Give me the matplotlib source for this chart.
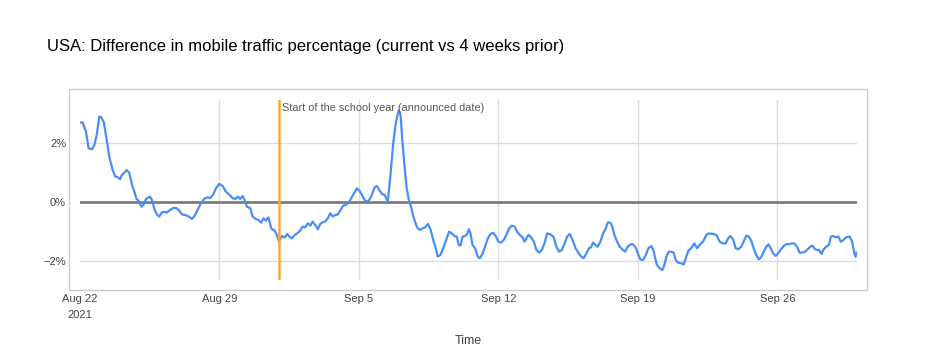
import pandas as pd
import matplotlib
matplotlib.use("Agg")
import matplotlib.pyplot as plt
from matplotlib.patches import Rectangle

plt.rcParams['font.family'] = ['Liberation Sans', 'DejaVu Sans']

title = 'USA: Difference in mobile traffic percentage (current vs 4 weeks prior)'
start = pd.Timestamp('2021-08-22')
end = pd.Timestamp('2021-09-30')
school_start = pd.Timestamp('2021-09-01')
school_label = 'Start of the school year (announced date)'

# days since Aug 22 00:00
days = [0.0, 0.13, 0.3, 0.43, 0.6, 0.72, 0.84, 0.97, 1.07, 1.2, 1.34, 1.47, 1.64, 1.77,
        1.89, 2.01, 2.1, 2.22, 2.34, 2.47, 2.61, 2.73, 2.84, 2.94, 3.08, 3.18, 3.31, 3.51,
        3.61, 3.75, 3.88, 3.98, 4.11, 4.23, 4.35, 4.48, 4.65, 4.82, 4.95, 5.12, 5.28, 5.45,
        5.62, 5.75, 5.9, 6.07, 6.24, 6.4, 6.54, 6.69, 6.82, 6.99, 7.16, 7.32, 7.49, 7.66,
        7.79, 7.93, 8.04, 8.16, 8.26, 8.38, 8.55, 8.66, 8.83, 8.96, 9.1, 9.21, 9.33, 9.46,
        9.6, 9.77, 9.88, 10.0, 10.13, 10.27, 10.4, 10.5, 10.64, 10.77, 10.9, 11.05, 11.17,
        11.3, 11.44, 11.56, 11.67, 11.81, 11.94, 12.06, 12.17, 12.31, 12.44, 12.56, 12.68,
        12.81, 12.94, 13.08, 13.2, 13.31, 13.48, 13.61, 13.75, 13.9, 14.03, 14.15, 14.28,
        14.4, 14.52, 14.65, 14.79, 14.9, 15.02, 15.15, 15.29, 15.45, 15.59, 15.72, 15.85,
        15.99, 16.09, 16.19, 16.29, 16.39, 16.52, 16.62, 16.71, 16.79, 16.92, 17.06, 17.19,
        17.32, 17.46, 17.59, 17.71, 17.83, 17.96, 18.09, 18.26, 18.39, 18.53, 18.66, 18.8,
        18.91, 19.01, 19.1, 19.2, 19.33, 19.43, 19.52, 19.6, 19.7, 19.83, 19.97, 20.07,
        20.2, 20.33, 20.47, 20.6, 20.74, 20.87, 21.0, 21.14, 21.27, 21.4, 21.54, 21.67,
        21.81, 21.94, 22.07, 22.21, 22.31, 22.41, 22.51, 22.64, 22.78, 22.91, 23.05, 23.18,
        23.31, 23.45, 23.61, 23.78, 23.91, 24.05, 24.18, 24.32, 24.45, 24.58, 24.72, 24.87,
        25.03, 25.17, 25.28, 25.42, 25.55, 25.65, 25.75, 25.87, 25.99, 26.12, 26.26, 26.39,
        26.49, 26.62, 26.72, 26.82, 26.96, 27.09, 27.22, 27.36, 27.49, 27.63, 27.76, 27.89,
        28.03, 28.13, 28.26, 28.4, 28.53, 28.67, 28.77, 28.87, 28.96, 29.1, 29.23, 29.33,
        29.43, 29.55, 29.67, 29.8, 29.9, 30.03, 30.17, 30.3, 30.43, 30.54, 30.67, 30.84,
        30.97, 31.14, 31.27, 31.44, 31.57, 31.77, 31.94, 32.11, 32.27, 32.41, 32.53, 32.64,
        32.78, 32.91, 33.04, 33.19, 33.33, 33.44, 33.58, 33.71, 33.81, 33.95, 34.08, 34.2,
        34.32, 34.45, 34.55, 34.67, 34.78, 34.92, 35.05, 35.18, 35.32, 35.45, 35.59, 35.72,
        35.85, 35.99, 36.12, 36.25, 36.39, 36.52, 36.66, 36.76, 36.89, 36.99, 37.09, 37.22,
        37.32, 37.46, 37.59, 37.69, 37.79, 37.93, 38.06, 38.19, 38.33, 38.46, 38.63, 38.76,
        38.86, 38.93, 38.98]
pct = [2.69, 2.70, 2.39, 1.83, 1.79, 1.94, 2.28, 2.90, 2.87, 2.69, 2.11, 1.54, 1.09, 0.87,
       0.85, 0.78, 0.92, 1.00, 1.09, 1.00, 0.59, 0.36, 0.11, 0.06, -0.15, -0.09, 0.11, 0.19,
       0.08, -0.26, -0.43, -0.48, -0.34, -0.32, -0.35, -0.28, -0.20, -0.19, -0.26, -0.41, -0.43, -0.48,
       -0.56, -0.46, -0.26, -0.03, 0.12, 0.17, 0.14, 0.27, 0.47, 0.62, 0.55, 0.36, 0.26, 0.14,
       0.11, 0.19, 0.11, 0.21, 0.08, -0.15, -0.20, -0.48, -0.57, -0.60, -0.69, -0.54, -0.62, -0.51,
       -0.88, -0.96, -1.10, -1.33, -1.14, -1.19, -1.07, -1.16, -1.22, -1.10, -1.05, -0.96, -0.82,
       -0.85, -0.71, -0.79, -0.65, -0.77, -0.91, -0.73, -0.68, -0.65, -0.54, -0.37, -0.48,
       -0.43, -0.41, -0.26, -0.12, -0.09, -0.03, 0.14, 0.30, 0.47, 0.39, 0.25, 0.08,
       0.02, 0.08, 0.25, 0.51, 0.55, 0.42, 0.28, 0.25, 0.02, 0.98, 1.99, 2.67,
       3.10, 2.95, 1.99, 1.21, 0.51, 0.02, -0.15, -0.43, -0.60, -0.85, -0.94, -0.88,
       -0.85, -0.73, -0.91, -1.22, -1.50, -1.83, -1.78, -1.50, -1.25, -0.99, -1.05, -1.14,
       -1.16, -1.44, -1.46, -1.16, -1.14, -1.08, -0.91, -1.05, -1.44, -1.55, -1.84, -1.89,
       -1.75, -1.50, -1.22, -1.07, -1.03, -1.14, -1.33, -1.36, -1.27, -1.10, -0.88, -0.79,
       -0.82, -0.99, -1.10, -1.18, -1.33, -1.22, -1.10, -1.18, -1.33, -1.61, -1.70, -1.61,
       -1.39, -1.05, -1.08, -1.18, -1.50, -1.67, -1.61, -1.39, -1.16, -1.07, -1.27, -1.55,
       -1.72, -1.84, -1.89, -1.72, -1.55, -1.52, -1.36, -1.44, -1.50, -1.33, -1.05, -0.88,
       -0.68, -0.69, -0.82, -1.10, -1.33, -1.50, -1.59, -1.67, -1.50, -1.42, -1.42, -1.53,
       -1.78, -1.93, -1.95, -1.78, -1.55, -1.48, -1.59, -1.89, -2.12, -2.23, -2.29, -2.12,
       -1.84, -1.67, -1.67, -1.70, -1.95, -2.04, -2.06, -2.10, -1.84, -1.63, -1.55, -1.39,
       -1.55, -1.41, -1.33, -1.10, -1.05, -1.07, -1.10, -1.33, -1.39, -1.39, -1.22, -1.14,
       -1.25, -1.55, -1.59, -1.50, -1.30, -1.13, -1.16, -1.33, -1.55, -1.80, -1.93, -1.84,
       -1.67, -1.50, -1.42, -1.55, -1.72, -1.81, -1.72, -1.59, -1.48, -1.41, -1.42, -1.39,
       -1.39, -1.50, -1.70, -1.70, -1.67, -1.59, -1.50, -1.46, -1.58, -1.61, -1.61, -1.75,
       -1.59, -1.50, -1.44, -1.16, -1.14, -1.18, -1.16, -1.33, -1.27, -1.18, -1.16, -1.33,
       -1.72, -1.84, -1.70]

tick_dates = pd.date_range('2021-08-22', periods=6, freq='7D')
tick_labels = ['Aug 22\n2021', 'Aug 29', 'Sep 5', 'Sep 12', 'Sep 19', 'Sep 26']
y_ticks = [-2, 0, 2]
y_labels = ['\u22122%', '0%', '2%']

times = start + pd.to_timedelta(days, unit='D')

W, H = 937, 360
fig = plt.figure(figsize=(W / 100, H / 100), dpi=100)
ax = fig.add_axes([80 / W, 1 - 280 / H, 777 / W, 180 / H])

# outer chart frame like the original
fig.patches.append(Rectangle((69 / W, 1 - 290 / H), 798 / W, 201 / H,
                             transform=fig.transFigure, fill=False,
                             edgecolor='#cccccc', linewidth=1))

ax.plot(times, pct, color='#4a8ef5', linewidth=1.6, zorder=4)
ax.axhline(0, color='#777777', linewidth=1.9, zorder=3)
ax.axvline(school_start, color='#f5a93b', linewidth=1.8, zorder=5)
ax.annotate(school_label, xy=(school_start, 1), xycoords=('data', 'axes fraction'),
            xytext=(2, -2), textcoords='offset points', va='top', ha='left',
            fontsize=7.8, color='#555555', zorder=6)

ax.set_xlim(start, end)
ax.set_ylim(-2.625, 3.456)
ax.set_xticks(tick_dates)
ax.set_xticklabels(tick_labels, linespacing=1.75)
ax.set_yticks(y_ticks)
ax.set_yticklabels(y_labels)
ax.tick_params(length=0, labelsize=8, labelcolor='#444444')
ax.tick_params(axis='x', pad=10)
ax.tick_params(axis='y', pad=10)
ax.grid(True, color='#dddddd', linewidth=1)
ax.set_axisbelow(True)
# no vertical gridline on the left edge
ax.get_xgridlines()[0].set_visible(False)
for s in ax.spines.values():
    s.set_visible(False)

fig.text(47 / W, 1 - 46 / H, title, va='center', ha='left', fontsize=12, color='#000000')
fig.text(468 / W, 1 - 341 / H, 'Time', va='center', ha='center', fontsize=9, color='#444444')

fig.savefig('out.png', dpi=100)
